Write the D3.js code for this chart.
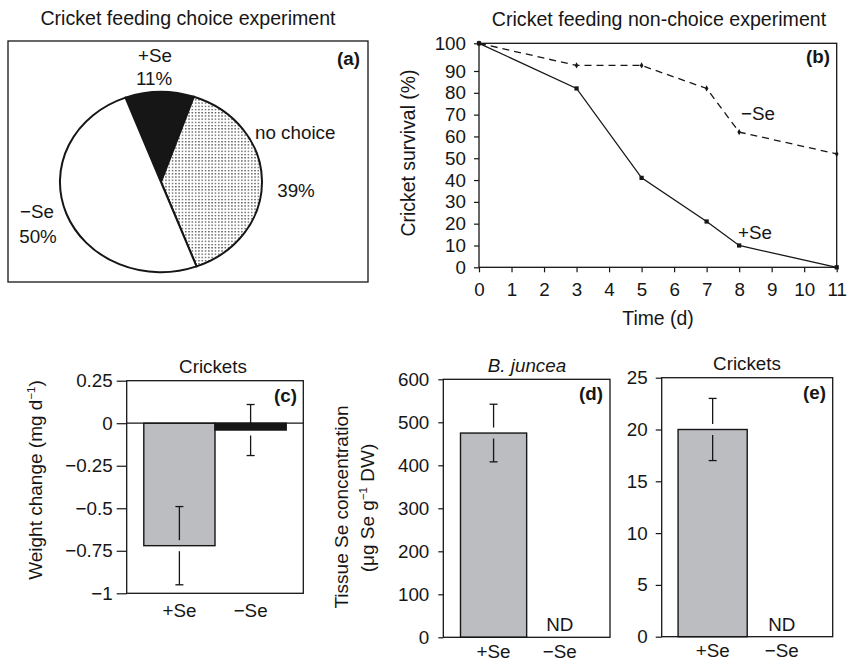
<!DOCTYPE html>
<html>
<head>
<meta charset="utf-8">
<script src="https://cdn.jsdelivr.net/npm/d3@7"></script>
<style>
  html, body { margin: 0; padding: 0; background: #fff; }
  svg { display: block; }
</style>
</head>
<body>
<svg id="fig" width="847" height="663"></svg>
<script>
// ---------------- data ----------------
// (a) choice experiment
const choiceLabels = ["+Se", "no choice", "−Se"];
const choiceShares = [11, 39, 50];

// (b) non-choice survival
const days = [0, 3, 5, 7, 8, 11];
const survivalPlusSe = [100, 82, 41, 21, 10, 0];
const survivalMinusSe = [100, 92, 92, 82, 62, 52];
const survivalTicks = [0, 10, 20, 30, 40, 50, 60, 70, 80, 90, 100];
const dayTicks = [0, 1, 2, 3, 4, 5, 6, 7, 8, 9, 10, 11];

// (c)-(e) bars
const treatments = ["+Se", "−Se"];
const weightChange = [-0.72, -0.04];
const weightChangeErr = [0.23, 0.15];
const weightTicks = [0.25, 0, -0.25, -0.5, -0.75, -1];

const junceaSe = [475, null];      // −Se: not detected
const junceaSeErr = [67, null];
const junceaTicks = [0, 100, 200, 300, 400, 500, 600];

const cricketSe = [20, null];      // −Se: not detected
const cricketSeErr = [3, null];
const cricketTicks = [0, 5, 10, 15, 20, 25];

// ---------------- drawing ----------------
const FONT = "'Liberation Sans', Arial, Helvetica, sans-serif";
const INK = "#161616";
const GREY = "#bcbdc1";
const FS = 18.8;
const svg = d3.select("#fig").attr("font-family", FONT);

function frame(x0, y0, x1, y1) {
  svg.append("rect")
    .attr("x", x0).attr("y", y0)
    .attr("width", x1 - x0).attr("height", y1 - y0)
    .attr("fill", "none").attr("stroke", INK).attr("stroke-width", 1.3);
}
function text(x, y, s, o = {}) {
  const t = svg.append("text")
    .attr("x", x).attr("y", y)
    .attr("text-anchor", o.anchor || "middle")
    .attr("font-size", o.size || FS)
    .attr("fill", INK)
    .text(s);
  if (o.bold) t.attr("font-weight", "bold");
  if (o.italic) t.attr("font-style", "italic");
  return t;
}
function styleAxis(g) {
  g.attr("font-family", FONT).attr("font-size", FS);
  g.select(".domain").remove();
  g.selectAll(".tick line").attr("stroke", INK).attr("stroke-width", 1.2);
  g.selectAll(".tick text").attr("fill", INK);
}
const fmt = d => d3.format("")(d);

// ===== (a) pie =====
frame(8, 41, 368, 282);
text(188, 25, "Cricket feeding choice experiment", { size: 19.6 });

const defs = svg.append("defs");
const pat = defs.append("pattern").attr("id", "stipple")
  .attr("patternUnits", "userSpaceOnUse").attr("width", 3.3).attr("height", 3.6);
pat.append("rect").attr("width", 3.3).attr("height", 3.6).attr("fill", "#fff");
pat.append("rect").attr("x", 1).attr("y", 1).attr("width", 1.3).attr("height", 1.3).attr("fill", "#262626");

const start = -20.6 * Math.PI / 180;
const pie = d3.pie().sort(null).startAngle(start).endAngle(start + 2 * Math.PI);
const arc = d3.arc().innerRadius(0).outerRadius(101);
const pieFills = [INK, "url(#stipple)", "#fff"];
svg.append("g")
  .attr("transform", "translate(161,182) scale(1,0.893)")
  .selectAll("path")
  .data(pie(choiceShares))
  .join("path")
  .attr("d", arc)
  .attr("fill", (d, i) => pieFills[i])
  .attr("stroke", INK)
  .attr("stroke-width", 2)
  .attr("vector-effect", "non-scaling-stroke");

text(155, 62, choiceLabels[0]);
text(154, 85, choiceShares[0] + "%");
text(255, 139, choiceLabels[1], { anchor: "start" });
text(296, 197, choiceShares[1] + "%");
text(37, 218, choiceLabels[2]);
text(38, 243, choiceShares[2] + "%");
text(360, 65, "(a)", { anchor: "end", bold: true });

// ===== (b) survival =====
const xB = d3.scaleLinear().domain([0, 11]).range([479, 836.7]);
const yB = d3.scaleLinear().domain([0, 90, 100]).range([267.3, 71, 43.3]);

svg.append("g").attr("transform", "translate(479,0)")
  .call(d3.axisLeft(yB).tickValues(survivalTicks).tickSize(5).tickPadding(8).tickFormat(fmt))
  .call(styleAxis);
svg.append("g").attr("transform", "translate(0,267.3)")
  .call(d3.axisBottom(xB).tickValues(dayTicks).tickSize(5).tickPadding(10).tickFormat(fmt))
  .call(styleAxis);
frame(479, 43.3, 836.7, 267.3);

const lineB = d3.line().x((d, i) => xB(days[i])).y(d => yB(d));
svg.append("path").datum(survivalMinusSe).attr("d", lineB)
  .attr("fill", "none").attr("stroke", INK).attr("stroke-width", 1.3)
  .attr("stroke-dasharray", "7,5");
svg.append("path").datum(survivalPlusSe).attr("d", lineB)
  .attr("fill", "none").attr("stroke", INK).attr("stroke-width", 1.3);
svg.append("g").selectAll("path").data(survivalMinusSe).join("path")
  .attr("transform", (d, i) => `translate(${xB(days[i])},${yB(d)})`)
  .attr("d", d3.symbol(d3.symbolDiamond, 11)).attr("fill", INK);
svg.append("g").selectAll("path").data(survivalPlusSe).join("path")
  .attr("transform", (d, i) => `translate(${xB(days[i])},${yB(d)})`)
  .attr("d", d3.symbol(d3.symbolSquare, 18)).attr("fill", INK);

text(659, 26, "Cricket feeding non-choice experiment", { size: 19.6 });
text(758, 120, "−Se");
text(755, 239, "+Se");
text(830, 63, "(b)", { anchor: "end", bold: true });
text(658, 325, "Time (d)", { size: 19.4 });
svg.append("text").attr("transform", "translate(408,153) rotate(-90)")
  .attr("text-anchor", "middle").attr("dy", "0.35em").attr("font-size", 19.4)
  .attr("fill", INK).text("Cricket survival (%)");

// ---- helper for bar panels ----
function barPanel(cfg) {
  const { x0, x1, yTop, yBot, domain, ticks, vals, errs, fills, tickSize, tickPad, outer, xPad } = cfg;
  const x = d3.scaleBand().domain(treatments).range([x0, x1]).paddingInner(0).paddingOuter(outer);
  const y = d3.scaleLinear().domain(domain).range([yBot, yTop]);

  svg.append("g").attr("transform", `translate(${x0},0)`)
    .call(d3.axisLeft(y).tickValues(ticks).tickSize(tickSize).tickPadding(tickPad).tickFormat(fmt))
    .call(styleAxis);
  svg.append("g").attr("transform", `translate(0,${yBot})`)
    .call(d3.axisBottom(x).tickSize(0).tickPadding(xPad))
    .call(styleAxis);

  const data = vals.map((v, i) => ({ k: treatments[i], v, e: errs[i], i })).filter(d => d.v !== null);
  svg.append("g").selectAll("rect").data(data).join("rect")
    .attr("x", d => x(d.k))
    .attr("width", x.bandwidth())
    .attr("y", d => y(Math.max(0, d.v)))
    .attr("height", d => Math.abs(y(d.v) - y(0)))
    .attr("fill", d => fills[d.i])
    .attr("stroke", INK).attr("stroke-width", 1.4);

  const gap = 5.5, cap = 4;
  const eb = svg.append("g").attr("stroke", INK).attr("stroke-width", 1.3);
  data.forEach(d => {
    const cx = x(d.k) + x.bandwidth() / 2;
    const yv = y(d.v), yHi = y(d.v + d.e), yLo = y(d.v - d.e);
    eb.append("line").attr("x1", cx).attr("x2", cx).attr("y1", yHi).attr("y2", yv - gap);
    eb.append("line").attr("x1", cx).attr("x2", cx).attr("y1", yv + gap).attr("y2", yLo);
    eb.append("line").attr("x1", cx - cap).attr("x2", cx + cap).attr("y1", yHi).attr("y2", yHi);
    eb.append("line").attr("x1", cx - cap).attr("x2", cx + cap).attr("y1", yLo).attr("y2", yLo);
  });
  vals.forEach((v, i) => {
    if (v === null) text(x(treatments[i]) + x.bandwidth() / 2, yBot - 6, "ND");
  });
  frame(x0, yTop, x1, yBot);
  return { x, y };
}

// ===== (c) weight change =====
const c = barPanel({
  x0: 126.7, x1: 303.3, yTop: 380.7, yBot: 593.3,
  domain: [-1, 0.25], ticks: weightTicks,
  vals: weightChange, errs: weightChangeErr, fills: [GREY, INK],
  tickSize: 10, tickPad: 4, outer: 0.24, xPad: 10
});
svg.append("line").attr("x1", 126.7).attr("x2", 303.3)
  .attr("y1", c.y(0)).attr("y2", c.y(0)).attr("stroke", INK).attr("stroke-width", 1.2);
text(213, 373, "Crickets");
text(297, 402, "(c)", { anchor: "end", bold: true });
{
  const t = svg.append("text").attr("transform", "translate(35,480) rotate(-90)")
    .attr("text-anchor", "middle").attr("dy", "0.35em").attr("font-size", 19).attr("fill", INK);
  t.append("tspan").text("Weight change (mg d");
  t.append("tspan").attr("font-size", 11.5).attr("dy", -7).text("−1");
  t.append("tspan").attr("dy", 7).text(")");
}

// ===== (d) B. juncea =====
barPanel({
  x0: 443.3, x1: 610, yTop: 379.3, yBot: 637.3,
  domain: [0, 600], ticks: junceaTicks,
  vals: junceaSe, errs: junceaSeErr, fills: [GREY, GREY],
  tickSize: 5, tickPad: 9, outer: 0.26, xPad: 7
});
text(527, 372, "B. juncea", { italic: true });
text(603, 400, "(d)", { anchor: "end", bold: true });
svg.append("text").attr("transform", "translate(341,507) rotate(-90)")
  .attr("text-anchor", "middle").attr("dy", "0.35em").attr("font-size", 19).attr("fill", INK)
  .text("Tissue Se concentration");
{
  const t = svg.append("text").attr("transform", "translate(367,508) rotate(-90)")
    .attr("text-anchor", "middle").attr("dy", "0.35em").attr("font-size", 19).attr("fill", INK);
  t.append("tspan").text("(μg Se g");
  t.append("tspan").attr("font-size", 11.5).attr("dy", -7).text("−1");
  t.append("tspan").attr("dy", 7).text(" DW)");
}

// ===== (e) crickets Se =====
barPanel({
  x0: 661.7, x1: 832.7, yTop: 377.7, yBot: 636.7,
  domain: [0, 25], ticks: cricketTicks,
  vals: cricketSe, errs: cricketSeErr, fills: [GREY, GREY],
  tickSize: 6, tickPad: 8, outer: 0.237, xPad: 7
});
text(747, 370, "Crickets");
text(826, 399, "(e)", { anchor: "end", bold: true });
</script>
</body>
</html>
